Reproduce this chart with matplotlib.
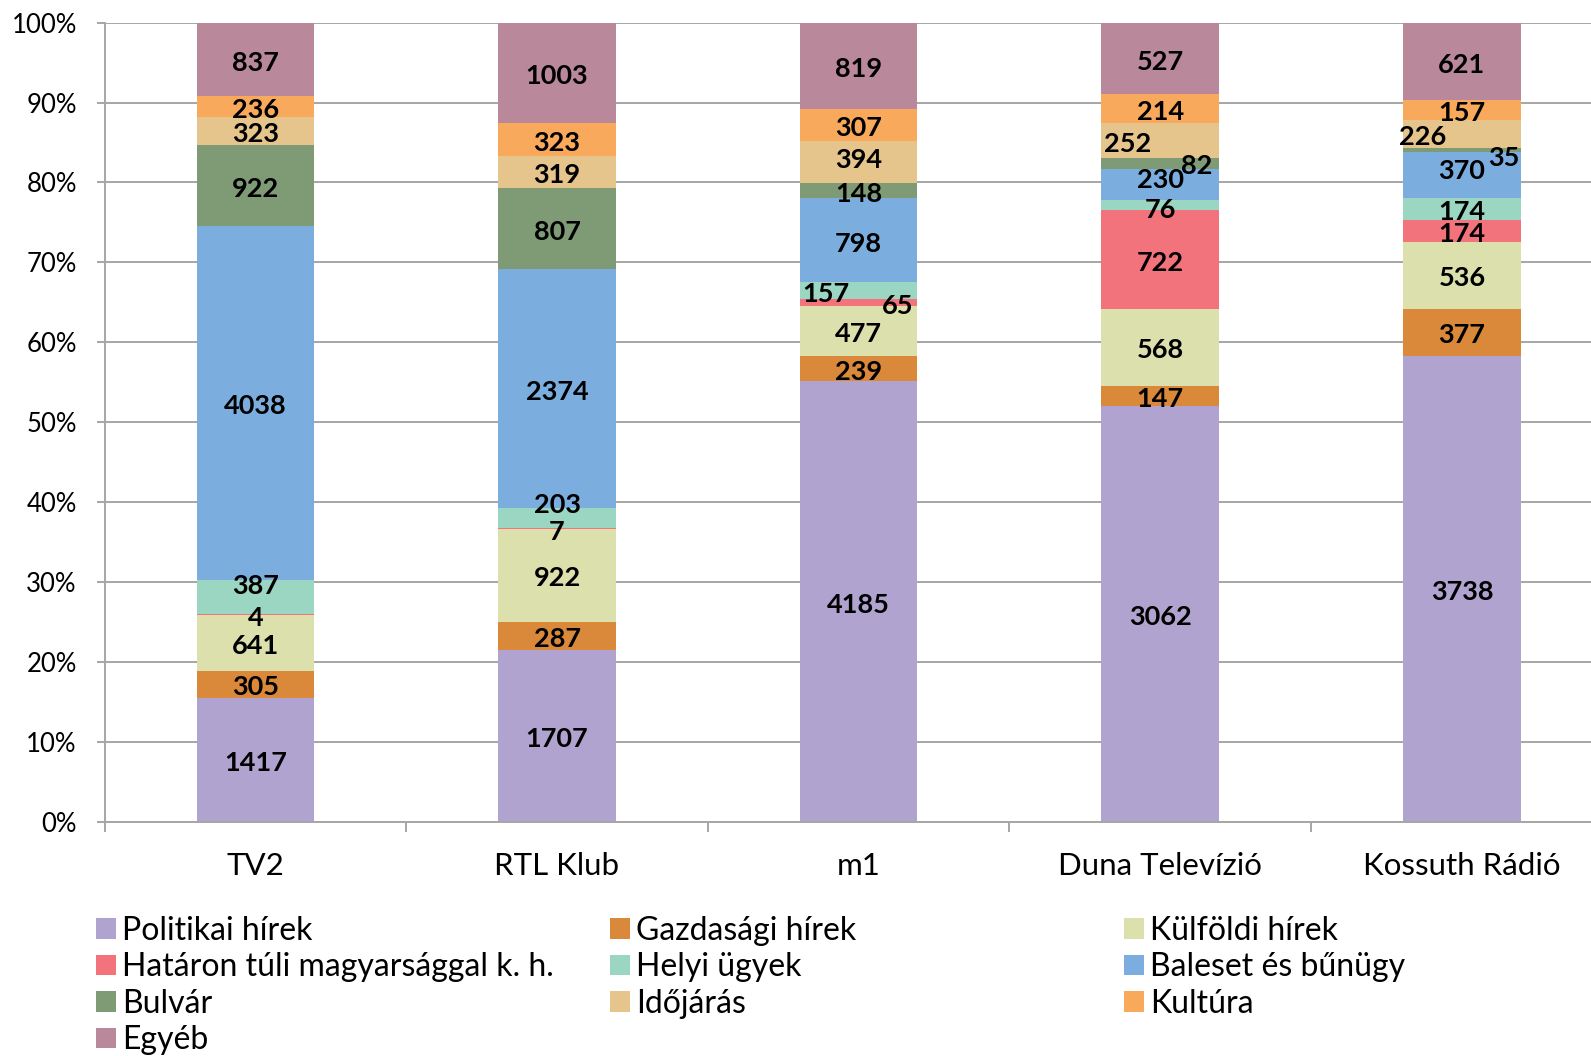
import numpy as np
import matplotlib
matplotlib.use("Agg")
import matplotlib.pyplot as plt
from matplotlib.patches import Patch

plt.rcParams["font.family"] = ["Lato", "DejaVu Sans"]

# categories (stations) and the news topics stacked in each bar
stations = ["TV2", "RTL Klub", "m1", "Duna Televízió", "Kossuth Rádió"]
topics = ["Politikai hírek", "Gazdasági hírek", "Külföldi hírek",
          "Határon túli magyarsággal k. h.", "Helyi ügyek", "Baleset és bűnügy",
          "Bulvár", "Időjárás", "Kultúra", "Egyéb"]

# counts per topic, one value per station
politikai = [1417, 1707, 4185, 3062, 3738]
gazdasagi = [305, 287, 239, 147, 377]
kulfoldi = [641, 922, 477, 568, 536]
hataron = [4, 7, 65, 722, 174]
helyi = [387, 203, 157, 76, 174]
baleset = [4038, 2374, 798, 230, 370]
bulvar = [922, 807, 148, 82, 35]
idojaras = [323, 319, 394, 252, 226]
kultura = [236, 323, 307, 214, 157]
egyeb = [837, 1003, 819, 527, 621]

colors = ["#B0A3D0", "#DA883A", "#DBE0AC", "#F3737D", "#9AD6C1",
          "#7BAEDF", "#7F9B76", "#E6C58D", "#F8A95C", "#B9899B"]

# manual nudges of crowded labels: (station, topic) -> (dx, dy)
nudges = {
    (0, 4): (0.0, 0.018),
    (1, 4): (0.0, 0.02),
    (2, 3): (0.13, 0.0),
    (2, 4): (-0.11, 0.0),
    (2, 7): (0.0, 0.006),
    (3, 4): (0.0, -0.002),
    (3, 5): (0.0, 0.01),
    (3, 6): (0.12, 0.0),
    (3, 7): (-0.11, 0.0),
    (4, 5): (0.0, 0.009),
    (4, 6): (0.14, -0.006),
    (4, 7): (-0.13, 0.0),
}

counts = np.array([politikai, gazdasagi, kulfoldi, hataron, helyi,
                   baleset, bulvar, idojaras, kultura, egyeb], dtype=float)
shares = counts / counts.sum(axis=0)

fig = plt.figure(figsize=(15.91, 10.56), dpi=100)
ax = fig.add_axes([0.0657, 0.2216, 0.948, 0.757])

x = np.arange(len(stations))
bottom = np.zeros(len(stations))
for i, topic in enumerate(topics):
    ax.bar(x, shares[i], 0.39, bottom=bottom, color=colors[i], label=topic,
           linewidth=0, zorder=2)
    for j in range(len(stations)):
        dx, dy = nudges.get((j, i), (0.0, 0.0))
        ax.text(x[j] + dx, bottom[j] + shares[i][j] / 2 + dy - 0.004,
                f"{int(counts[i][j])}", ha="center", va="center",
                fontsize=19.5, fontweight="bold", color="black", zorder=3)
    bottom += shares[i]

ax.set_xlim(-0.5, 4.5)
ax.set_ylim(0, 1)
ax.set_yticks(np.linspace(0, 1, 11))
ax.set_yticklabels([f"{v}%" for v in range(0, 101, 10)], fontsize=18.5)
ax.yaxis.grid(True, color="#A6A6A6", linewidth=1.4, zorder=0)
ax.set_axisbelow(True)

ax.set_xticks(x)
ax.set_xticklabels(stations, fontsize=22.5)
ax.set_xticks(np.arange(-0.5, 4.0, 1.0), minor=True)
ax.tick_params(axis="x", which="major", length=0, pad=21.5)
ax.tick_params(axis="x", which="minor", length=7, width=1.4, color="#A6A6A6")
ax.tick_params(axis="y", length=6, width=1.4, color="#A6A6A6", pad=14)

for side in ["top", "right"]:
    ax.spines[side].set_visible(False)
for side in ["left", "bottom"]:
    ax.spines[side].set_color("#A6A6A6")
    ax.spines[side].set_linewidth(1.4)

# legend laid out row-wise in three fixed columns
handles = [Patch(facecolor=c, edgecolor="none") for c in colors]
col_x = [96 / 1591, 610 / 1591, 1124 / 1591]
for k in range(3):
    idx = list(range(k, len(topics), 3))
    fig.legend([handles[n] for n in idx], [topics[n] for n in idx],
               loc="upper left", bbox_to_anchor=(col_x[k], 1 - 916 / 1056),
               frameon=False, fontsize=23, borderpad=0, borderaxespad=0,
               handlelength=0.62, handleheight=0.62, handletextpad=0.2,
               labelspacing=0.2)

fig.savefig("out.png", dpi=100)
